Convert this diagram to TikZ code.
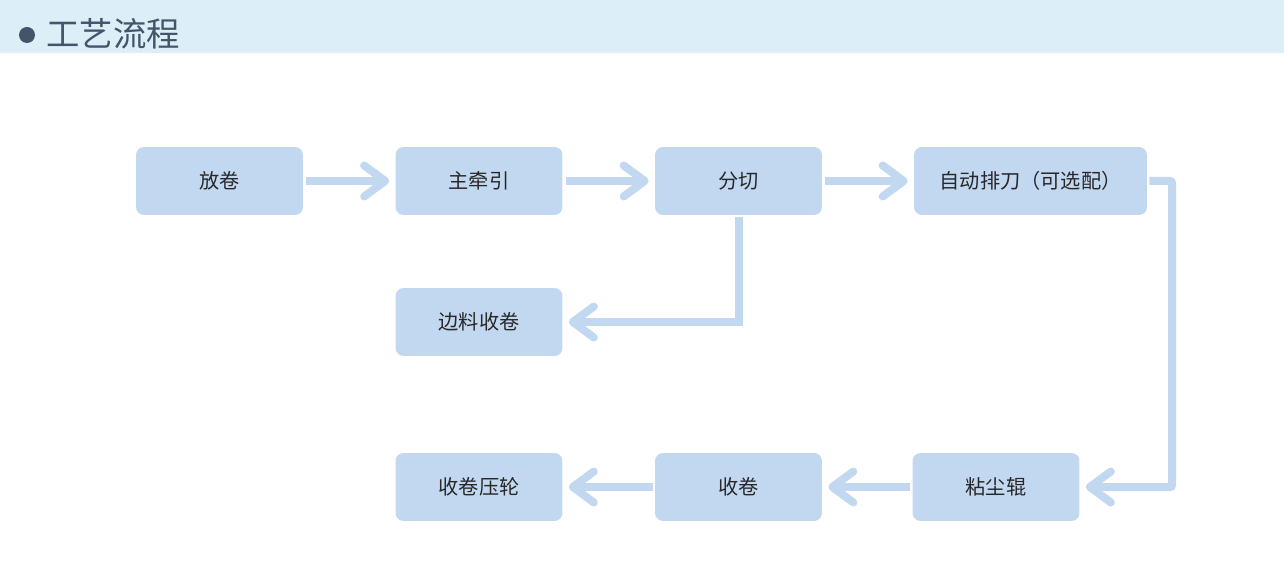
\documentclass[tikz,border=0pt]{standalone}
\usepackage{fontspec}
\setmainfont{Noto Sans CJK SC}
\usetikzlibrary{arrows.meta}
\definecolor{bandblue}{RGB}{220,238,248}
\definecolor{boxblue}{RGB}{194,216,241}
\definecolor{slate}{RGB}{68,84,106}
\definecolor{ink}{RGB}{40,40,40}
\tikzset{
  stepbox/.style={fill=boxblue, rounded corners=0.16cm, minimum width=3.34cm, minimum height=1.36cm, text=ink, font=\fontsize{11.5}{13}\selectfont, inner sep=0pt},
  flow/.style={boxblue, line width=0.16cm, -{Straight Barb[length=0.42cm, width=0.62cm, line cap=round, line join=round]}}
}
\begin{document}
\begin{tikzpicture}[x=0.02cm, y=-0.02cm]
\useasboundingbox (0,0) rectangle (1284,567);
\fill [bandblue] (0,0) rectangle (1284,53);
\fill [slate] (27,35) circle (8);
\node [anchor=west, text=slate, font=\fontsize{19}{22}\selectfont, inner sep=0pt] (title) at (46,34) {工艺流程};
\node [stepbox] (unwind) at (219.5,181) {放卷};
\node [stepbox] (pull) at (479,181) {主牵引};
\node [stepbox] (slit) at (738.5,181) {分切};
\node [stepbox, minimum width=4.66cm] (knife) at (1030.5,181) {自动排刀（可选配）};
\node [stepbox] (edge) at (479,322) {边料收卷};
\node [stepbox] (press) at (479,487) {收卷压轮};
\node [stepbox] (rewind) at (738.5,487) {收卷};
\node [stepbox] (dust) at (996,487) {粘尘辊};
\draw [flow] ([xshift=0.06cm]unwind.east) -- ([xshift=-0.12cm]pull.west);
\draw [flow] ([xshift=0.06cm]pull.east) -- ([xshift=-0.12cm]slit.west);
\draw [flow] ([xshift=0.06cm]slit.east) -- ([xshift=-0.12cm]knife.west);
\draw [flow] ([yshift=-0.04cm]slit.south) |- ([xshift=0.12cm]edge.east);
\draw [flow, rounded corners=0.04cm] ([xshift=0.04cm]knife.east) -| (1172,487) -- ([xshift=0.12cm]dust.east);
\draw [flow] ([xshift=-0.04cm]dust.west) -- ([xshift=0.12cm]rewind.east);
\draw [flow] ([xshift=-0.04cm]rewind.west) -- ([xshift=0.12cm]press.east);
\end{tikzpicture}
\end{document}
